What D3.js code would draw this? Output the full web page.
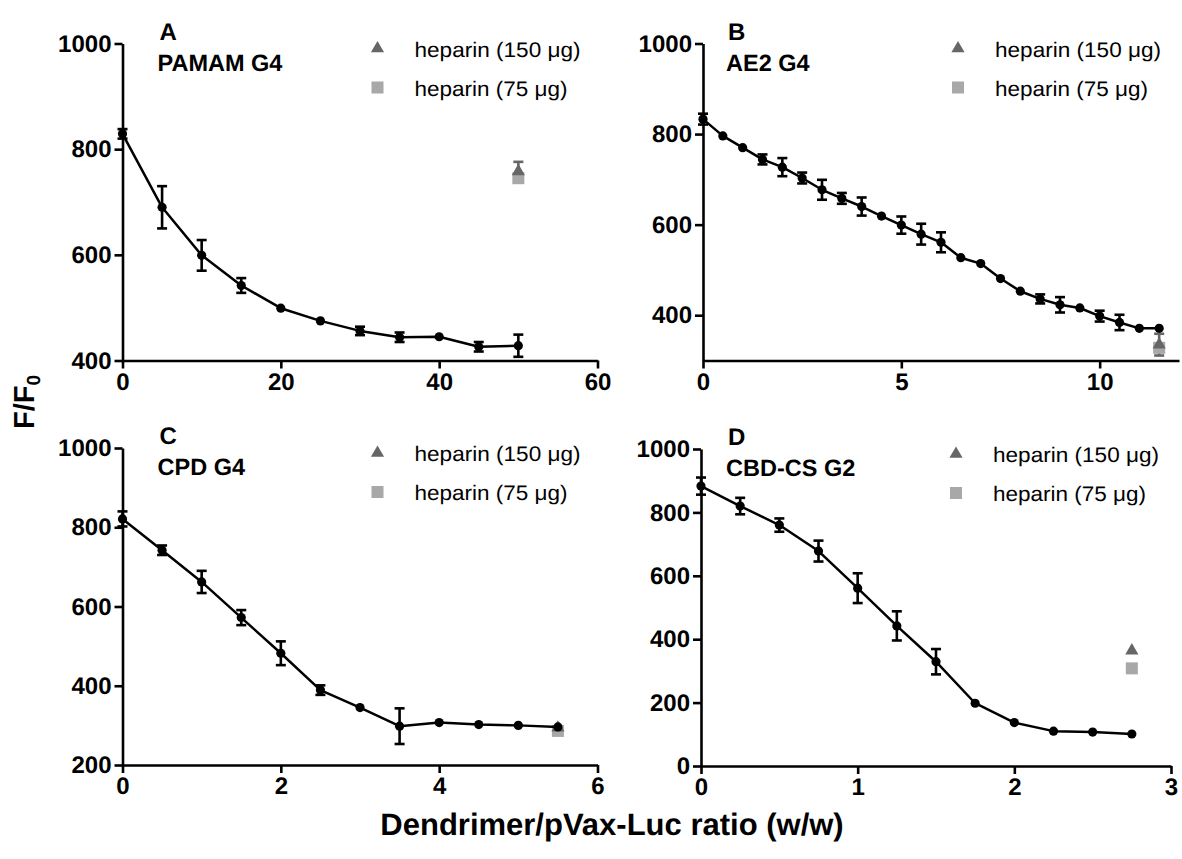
<!DOCTYPE html>
<html>
<head>
<meta charset="utf-8">
<script src="https://cdn.jsdelivr.net/npm/d3@7"></script>
<style>
	body { margin: 0; background: #fff; }
</style>
</head>
<body>
<div id="chart"></div>
<script>
// panel labels
var panelLetters = ['A', 'B', 'C', 'D'];
var panelNames = ['PAMAM G4', 'AE2 G4', 'CPD G4', 'CBD-CS G2'];
var legendLabels = ['heparin (150 \u03bcg)', 'heparin (75 \u03bcg)'];

// axes
var xDomains = [[0, 60], [0, 12], [0, 6], [0, 3]];
var yDomains = [[400, 1000], [300, 1000], [200, 1000], [0, 1000]];
var xTickValues = [[0, 20, 40, 60], [0, 5, 10], [0, 2, 4, 6], [0, 1, 2, 3]];
var yTickValues = [[400, 600, 800, 1000], [400, 600, 800, 1000], [200, 400, 600, 800, 1000], [0, 200, 400, 600, 800, 1000]];

// A - PAMAM G4
var ratioA = [0, 5, 10, 15, 20, 25, 30, 35, 40, 45, 50];
var fluorA = [829, 690, 599, 542, 499, 475, 456, 444, 445, 426, 428];
var errA = [9, 40, 29, 14, 4, 4, 8, 9, 4, 9, 21];

// B - AE2 G4
var ratioB = [0, 0.5, 1, 1.5, 2, 2.5, 3, 3.5, 4, 4.5, 5, 5.5, 6, 6.5, 7, 7.5, 8, 8.5, 9, 9.5, 10, 10.5, 11, 11.5];
var fluorB = [833, 796, 770, 744, 727, 703, 677, 658, 640, 619, 599, 579, 561, 527, 514, 481, 453, 436, 423, 416, 398, 384, 371, 371];
var errB = [12, 3, 3, 11, 20, 12, 22, 12, 20, 3, 19, 23, 22, 3, 3, 3, 3, 10, 17, 3, 12, 17, 3, 3];

// C - CPD G4
var ratioC = [0, 0.5, 1, 1.5, 2, 2.5, 3, 3.5, 4, 4.5, 5, 5.5];
var fluorC = [821, 742, 662, 572, 482, 389, 345, 298, 307, 302, 300, 296];
var errC = [19, 12, 28, 19, 30, 12, 3, 45, 3, 3, 3, 3];

// D - CBD-CS G2
var ratioD = [0, 0.25, 0.5, 0.75, 1, 1.25, 1.5, 1.75, 2, 2.25, 2.5, 2.75];
var fluorD = [883, 820, 760, 678, 561, 442, 329, 198, 137, 110, 107, 101];
var errD = [27, 26, 21, 33, 47, 46, 40, 4, 4, 4, 4, 4];

// heparin controls, one value per panel
var heparinRatio = [50, 11.5, 5.5, 2.75];
var heparin150 = [758, 335, 294, 364];
var heparin150Err = [18, 24, 0, 0];
var heparin75 = [745, 328, 286, 308];
var heparin75Err = [8, 8, 0, 0];

var ratios = [ratioA, ratioB, ratioC, ratioD],
	fluors = [fluorA, fluorB, fluorC, fluorD],
	errs = [errA, errB, errC, errD];

var fontFamily = '"Liberation Sans", Arial, Helvetica, sans-serif',
	darkGrey = '#666666',
	lightGrey = '#a8a8a8',
	legendTextLength = [166, 153];

// where each panel sits on the page
var frames = [
	{left: 122.5, top: 43.5, width: 475, height: 317, titleDx: 35},
	{left: 703, top: 43.5, width: 476, height: 317, titleDx: 23},
	{left: 122.5, top: 448, width: 475, height: 317, titleDx: 35},
	{left: 701, top: 449, width: 470, height: 317, titleDx: 25}
];

var svg = d3.select('#chart').append('svg')
	.attr('width', 1182)
	.attr('height', 859)
	.attr('font-family', fontFamily)
	.attr('text-rendering', 'geometricPrecision');

frames.forEach(function(f, p) {
	var x = d3.scaleLinear().domain(xDomains[p]).range([0, f.width]);
	var y = d3.scaleLinear().domain(yDomains[p]).range([f.height, 0]);
	var g = svg.append('g').attr('transform', 'translate(' + f.left + ',' + f.top + ')');

	// axes
	var xAxis = g.append('g')
		.attr('transform', 'translate(0,' + f.height + ')')
		.call(d3.axisBottom(x).tickValues(xTickValues[p]).tickFormat(d3.format('d'))
			.tickSize(8).tickSizeOuter(0).tickPadding(4));
	var yAxis = g.append('g')
		.call(d3.axisLeft(y).tickValues(yTickValues[p]).tickFormat(d3.format('d'))
			.tickSize(8).tickSizeOuter(0).tickPadding(3));
	[xAxis, yAxis].forEach(function(a) {
		a.select('.domain').attr('stroke', '#000').attr('stroke-width', 2.6);
		a.selectAll('.tick line').attr('stroke', '#000').attr('stroke-width', 2.6);
		a.selectAll('.tick text')
			.attr('font-family', fontFamily)
			.attr('font-size', '24px')
			.attr('font-weight', 'bold')
			.attr('fill', '#000');
	});

	// panel letter and dendrimer name
	g.append('text')
		.attr('x', f.titleDx + 2)
		.attr('y', -4)
		.attr('font-size', '24px')
		.attr('font-weight', 'bold')
		.text(panelLetters[p]);
	g.append('text')
		.attr('x', f.titleDx)
		.attr('y', 27)
		.attr('font-size', '23.5px')
		.attr('font-weight', 'bold')
		.text(panelNames[p]);

	// legend
	var lg = g.append('g').attr('transform', 'translate(255,0)');
	lg.append('path')
		.attr('d', d3.symbol(d3.symbolTriangle, 75)())
		.attr('transform', 'translate(0,5)')
		.attr('fill', darkGrey);
	lg.append('rect')
		.attr('x', -6).attr('y', 38)
		.attr('width', 12).attr('height', 12)
		.attr('fill', lightGrey);
	lg.selectAll('text.leg')
		.data(legendLabels)
		.enter().append('text')
		.attr('class', 'leg')
		.attr('x', 37)
		.attr('y', function(d, i) { return i === 0 ? 13 : 52; })
		.attr('font-size', '21px')
		.attr('textLength', function(d, i) { return legendTextLength[i]; })
		.attr('lengthAdjust', 'spacingAndGlyphs')
		.attr('fill', '#000')
		.text(function(d) { return d; });

	// error bars for the series
	var pts = ratios[p].map(function(r, i) {
		return {x: r, y: fluors[p][i], e: errs[p][i]};
	});
	var bars = g.append('g').attr('stroke', '#000').attr('stroke-width', 2.6);
	pts.forEach(function(d) {
		if (d.e <= 4) return;
		bars.append('line')
			.attr('x1', x(d.x)).attr('x2', x(d.x))
			.attr('y1', y(d.y - d.e)).attr('y2', y(d.y + d.e));
		[d.y - d.e, d.y + d.e].forEach(function(v) {
			bars.append('line')
				.attr('x1', x(d.x) - 5).attr('x2', x(d.x) + 5)
				.attr('y1', y(v)).attr('y2', y(v));
		});
	});

	// heparin points (square under triangle)
	var hx = x(heparinRatio[p]);
	[[heparin75[p], heparin75Err[p], lightGrey], [heparin150[p], heparin150Err[p], darkGrey]].forEach(function(h) {
		if (h[1] > 0) {
			var hb = g.append('g').attr('stroke', h[2]).attr('stroke-width', 2.6);
			hb.append('line').attr('x1', hx).attr('x2', hx).attr('y1', y(h[0] - h[1])).attr('y2', y(h[0] + h[1]));
			[h[0] - h[1], h[0] + h[1]].forEach(function(v) {
				hb.append('line').attr('x1', hx - 5).attr('x2', hx + 5).attr('y1', y(v)).attr('y2', y(v));
			});
		}
	});
	g.append('rect')
		.attr('x', hx - 6).attr('y', y(heparin75[p]) - 6)
		.attr('width', 12).attr('height', 12)
		.attr('fill', lightGrey);
	g.append('path')
		.attr('d', d3.symbol(d3.symbolTriangle, 75)())
		.attr('transform', 'translate(' + hx + ',' + y(heparin150[p]) + ')')
		.attr('fill', darkGrey);

	// connecting line and points
	g.append('path')
		.datum(pts)
		.attr('fill', 'none')
		.attr('stroke', '#000')
		.attr('stroke-width', 2.5)
		.attr('stroke-linejoin', 'round')
		.attr('d', d3.line().x(function(d) { return x(d.x); }).y(function(d) { return y(d.y); }));
	g.selectAll('circle.pt')
		.data(pts)
		.enter().append('circle')
		.attr('class', 'pt')
		.attr('cx', function(d) { return x(d.x); })
		.attr('cy', function(d) { return y(d.y); })
		.attr('r', 4.6)
		.attr('fill', '#000');
});

// shared axis titles
var yTitle = svg.append('text')
	.attr('transform', 'translate(34,402) rotate(-90)')
	.attr('text-anchor', 'middle')
	.attr('font-size', '29px')
	.attr('font-weight', 'bold');
yTitle.append('tspan').text('F/F');
yTitle.append('tspan').attr('font-size', '19px').attr('dy', 6).text('0');

svg.append('text')
	.attr('x', 612)
	.attr('y', 835)
	.attr('text-anchor', 'middle')
	.attr('font-size', '31px')
	.attr('font-weight', 'bold')
	.text('Dendrimer/pVax-Luc ratio (w/w)');
</script>
</body>
</html>
